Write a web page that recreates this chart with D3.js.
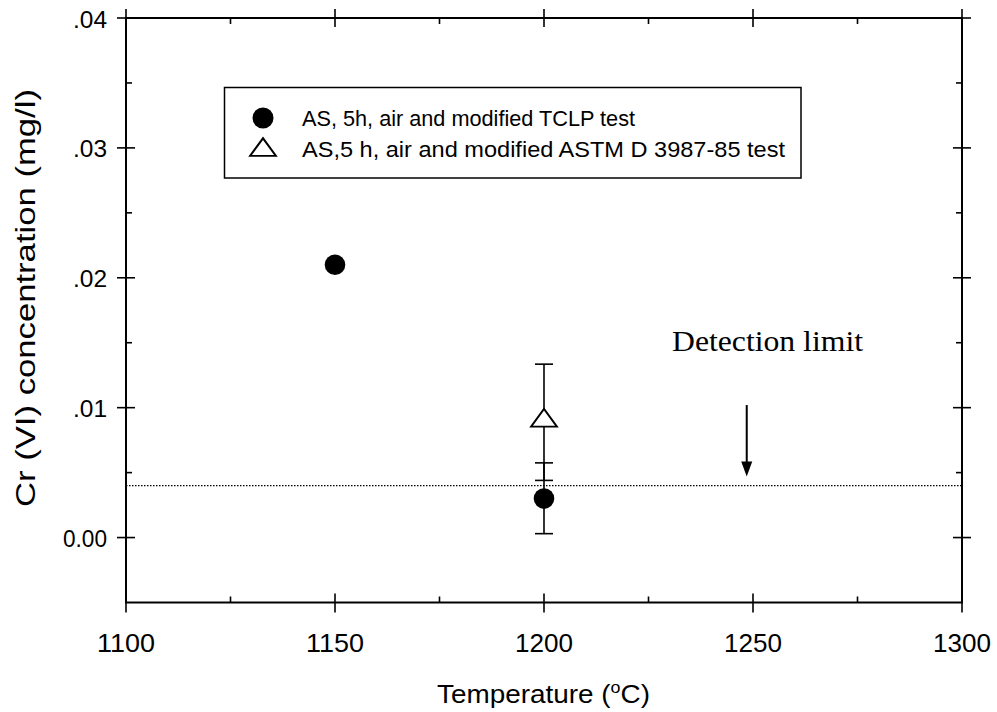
<!DOCTYPE html>
<html>
<head>
<meta charset="utf-8">
<script src="https://cdn.jsdelivr.net/npm/d3@7"></script>
<style>
  html, body { margin: 0; padding: 0; background: #fff; }
  svg { display: block; }
  text { font-family: "Liberation Sans", Arial, Helvetica, sans-serif; fill: #000; }
</style>
</head>
<body>
<svg id="chart" width="997" height="712"></svg>
<script>
// ---------------- data ----------------
const xTicks = [1100, 1150, 1200, 1250, 1300];
const xTickLabels = ["1100", "1150", "1200", "1250", "1300"];
const yTicks = [0.00, 0.01, 0.02, 0.03, 0.04];
const yTickLabels = ["0.00", ".01", ".02", ".03", ".04"];

// Series 1: AS, 5h, air and modified TCLP test (filled circles)
const tclpTemp = [1150, 1200];
const tclpValue = [0.021, 0.003];
const tclpLow = [null, 0.0003];
const tclpHigh = [null, 0.00575];

// Series 2: AS,5 h, air and modified ASTM D 3987-85 test (open triangles)
const astmTemp = [1200];
const astmValue = [0.009];
const astmLow = [0.0044];
const astmHigh = [0.01335];

const legendLabels = ["AS, 5h, air and modified TCLP test", "AS,5 h, air and modified ASTM D 3987-85 test"];
const detectionLimit = 0.004;
const detectionArrowX = 1248.5;
const detectionArrowTop = 0.0102;

// ---------------- layout ----------------
const svg = d3.select("#chart");
const x = d3.scaleLinear().domain([1100, 1300]).range([126, 962]);
const y = d3.scaleLinear().domain([-0.005, 0.04]).range([602.5, 18]);
const X0 = x.range()[0], X1 = x.range()[1];
const Y0 = y.range()[0], Y1 = y.range()[1];

// frame
svg.append("rect").attr("x", X0).attr("y", Y1).attr("width", X1 - X0).attr("height", Y0 - Y1)
  .attr("fill", "none").attr("stroke", "#000").attr("stroke-width", 2);

// major ticks (crossing) and minor ticks (inside)
const g = svg.append("g").attr("stroke", "#000").attr("stroke-width", 1.6);
const xMinor = d3.range(1125, 1300, 50);
const yMinor = d3.range(-0.005, 0.0401, 0.01).filter(v => v < 0.04);
xTicks.forEach(v => {
  g.append("line").attr("x1", x(v)).attr("x2", x(v)).attr("y1", Y0 - 9).attr("y2", Y0 + 10);
  g.append("line").attr("x1", x(v)).attr("x2", x(v)).attr("y1", Y1 - 9).attr("y2", Y1 + 9);
});
xMinor.forEach(v => {
  g.append("line").attr("x1", x(v)).attr("x2", x(v)).attr("y1", Y0).attr("y2", Y0 - 6);
  g.append("line").attr("x1", x(v)).attr("x2", x(v)).attr("y1", Y1).attr("y2", Y1 + 6);
});
yTicks.forEach(v => {
  g.append("line").attr("x1", X0 - 9).attr("x2", X0 + 9).attr("y1", y(v)).attr("y2", y(v));
  g.append("line").attr("x1", X1 - 9).attr("x2", X1 + 9).attr("y1", y(v)).attr("y2", y(v));
});
yMinor.forEach(v => {
  if (v <= -0.0049) return;
  g.append("line").attr("x1", X0).attr("x2", X0 + 6).attr("y1", y(v)).attr("y2", y(v));
  g.append("line").attr("x1", X1).attr("x2", X1 - 6).attr("y1", y(v)).attr("y2", y(v));
});

// tick labels
yTicks.forEach((v, i) => {
  const t = yTickLabels[i];
  svg.append("text").attr("x", 107).attr("y", y(v) + 9.5)
    .attr("text-anchor", "end").attr("font-size", 23)
    .attr("textLength", t.length === 4 ? 44 : 34).attr("lengthAdjust", "spacingAndGlyphs")
    .text(t);
});
xTicks.forEach((v, i) => {
  svg.append("text").attr("x", x(v) - 29).attr("y", 652)
    .attr("font-size", 26.5)
    .attr("textLength", 58).attr("lengthAdjust", "spacingAndGlyphs")
    .text(xTickLabels[i]);
});

// axis titles
const xt = svg.append("text").attr("x", 437).attr("y", 703).attr("font-size", 25)
  .attr("textLength", 213).attr("lengthAdjust", "spacingAndGlyphs");
xt.append("tspan").text("Temperature (");
xt.append("tspan").attr("font-size", 16).attr("dy", -10).text("o");
xt.append("tspan").attr("dy", 10).text("C)");

svg.append("text").attr("transform", "translate(35,507) rotate(-90)")
  .attr("font-size", 27).attr("textLength", 418).attr("lengthAdjust", "spacingAndGlyphs")
  .text("Cr (VI) concentration (mg/l)");

// detection limit line
svg.append("line").attr("x1", X0).attr("x2", X1)
  .attr("y1", y(detectionLimit)).attr("y2", y(detectionLimit))
  .attr("stroke", "#000").attr("stroke-width", 1.2).attr("stroke-dasharray", "1.5,1.5");

// arrow
const ax = x(detectionArrowX);
svg.append("line").attr("x1", ax).attr("x2", ax).attr("y1", y(detectionArrowTop)).attr("y2", y(detectionLimit) - 22)
  .attr("stroke", "#000").attr("stroke-width", 2);
svg.append("path")
  .attr("d", `M${ax - 5.5},${y(detectionLimit) - 24} L${ax + 5.5},${y(detectionLimit) - 24} L${ax},${y(detectionLimit) - 9} Z`)
  .attr("fill", "#000");
svg.append("text").attr("x", 672).attr("y", 351)
  .style("font-family", "'Liberation Serif', 'Times New Roman', serif")
  .attr("font-size", 29).attr("textLength", 191).attr("lengthAdjust", "spacingAndGlyphs")
  .text("Detection limit");

// error bars
function errorBars(temps, lows, highs) {
  temps.forEach((t, i) => {
    if (lows[i] == null) return;
    const cx = x(t);
    const eg = svg.append("g").attr("stroke", "#000").attr("stroke-width", 1.6);
    eg.append("line").attr("x1", cx).attr("x2", cx).attr("y1", y(lows[i])).attr("y2", y(highs[i]));
    eg.append("line").attr("x1", cx - 9).attr("x2", cx + 9).attr("y1", y(lows[i])).attr("y2", y(lows[i]));
    eg.append("line").attr("x1", cx - 9).attr("x2", cx + 9).attr("y1", y(highs[i])).attr("y2", y(highs[i]));
  });
}
errorBars(astmTemp, astmLow, astmHigh);
errorBars(tclpTemp, tclpLow, tclpHigh);

const tri = d3.symbol().type(d3.symbolTriangle).size(200);
svg.selectAll(".tri").data(astmTemp).enter().append("path")
  .attr("d", tri)
  .attr("transform", (d, i) => `translate(${x(d)},${y(astmValue[i])}) scale(1.2,0.95)`)
  .attr("fill", "#fff").attr("stroke", "#000").attr("stroke-width", 1.8);

svg.selectAll(".dot").data(tclpTemp).enter().append("circle")
  .attr("cx", d => x(d)).attr("cy", (d, i) => y(tclpValue[i])).attr("r", 10.3)
  .attr("fill", "#000");

// legend
svg.append("rect").attr("x", 224.5).attr("y", 87.5).attr("width", 576.5).attr("height", 90.5)
  .attr("fill", "none").attr("stroke", "#000").attr("stroke-width", 1.5);
svg.append("circle").attr("cx", 263).attr("cy", 118).attr("r", 10.5).attr("fill", "#000");
svg.append("path").attr("d", tri)
  .attr("transform", "translate(263,150) scale(1.2,0.95)")
  .attr("fill", "#fff").attr("stroke", "#000").attr("stroke-width", 1.8);
svg.append("text").attr("x", 302).attr("y", 126).attr("font-size", 22.5)
  .attr("textLength", 333).attr("lengthAdjust", "spacingAndGlyphs").text(legendLabels[0]);
svg.append("text").attr("x", 302).attr("y", 157).attr("font-size", 22.5)
  .attr("textLength", 483).attr("lengthAdjust", "spacingAndGlyphs").text(legendLabels[1]);
</script>
</body>
</html>
